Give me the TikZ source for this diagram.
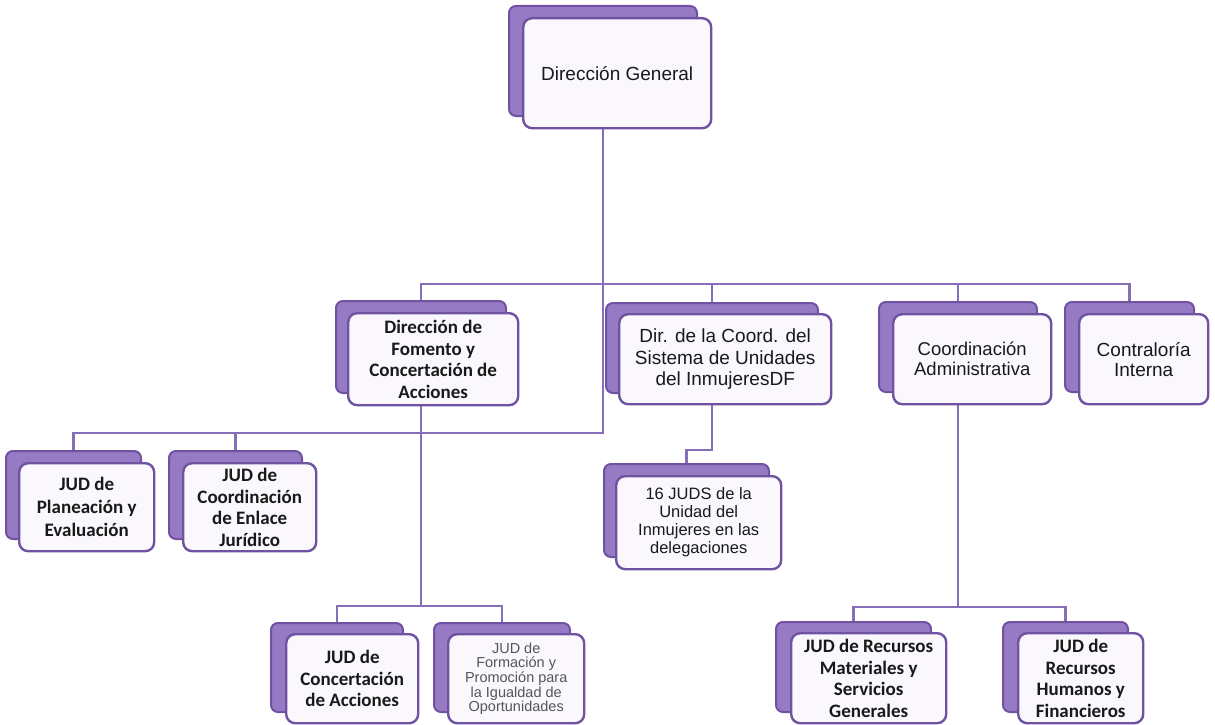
\documentclass[tikz,border=0pt]{standalone}
\usepackage{fontspec}
\setmainfont{Liberation Sans}
\newfontfamily\calfont{Carlito}
\usetikzlibrary{backgrounds}
\definecolor{purp}{RGB}{112,82,162}
\definecolor{purpline}{RGB}{135,110,185}
\definecolor{shfill}{RGB}{150,122,195}
\definecolor{frontfill}{RGB}{250,248,253}
\definecolor{txt}{RGB}{25,25,25}
\definecolor{txtgray}{RGB}{85,85,85}
\tikzset{
  front/.style={draw=purp, line width=2.4pt, rounded corners=9pt, fill=frontfill,
    inner sep=0pt, align=center, text=txt, anchor=north west},
  shadowbox/.style={draw=purp, line width=2pt, rounded corners=7pt, fill=shfill,
    inner sep=0pt, anchor=north west},
  conn/.style={draw=purpline, line width=2.2pt},
  arial/.style={font=\fontsize{19}{21.5}\selectfont},
  cal/.style={font=\calfont\bfseries\fontsize{19}{21.5}\selectfont},
}
\begin{document}
\begin{tikzpicture}[x=1pt,y=-1pt]
\useasboundingbox (0,0) rectangle (1215,725);
% bus levels
\coordinate (b1) at (0,284);
\coordinate (b2) at (0,433);
\coordinate (b3) at (0,606);
\coordinate (b4) at (0,450);
\coordinate (b5) at (0,607);
% shadows
\node[shadowbox, minimum width=188pt, minimum height=110pt] (dgS) at (508,5) {};
\node[shadowbox, minimum width=170pt, minimum height=92pt] (fomS) at (335,300) {};
\node[shadowbox, minimum width=212pt, minimum height=90pt] (dcS) at (605,302) {};
\node[shadowbox, minimum width=158pt, minimum height=90pt] (caS) at (878,301) {};
\node[shadowbox, minimum width=129pt, minimum height=90pt] (conS) at (1064,301) {};
\node[shadowbox, minimum width=135pt, minimum height=88pt] (plS) at (5,450) {};
\node[shadowbox, minimum width=133pt, minimum height=88pt] (enS) at (168,450) {};
\node[shadowbox, minimum width=165pt, minimum height=93pt] (judsS) at (603,463) {};
\node[shadowbox, minimum width=132pt, minimum height=89pt] (jcS) at (270,622) {};
\node[shadowbox, minimum width=136pt, minimum height=89pt] (jfS) at (433,622) {};
\node[shadowbox, minimum width=155pt, minimum height=90pt] (rmS) at (775,621) {};
\node[shadowbox, minimum width=125pt, minimum height=90pt] (rhS) at (1002,621) {};
% front boxes
\node[front, arial, minimum width=188pt, minimum height=110pt] (dg) at (522,17) {Dirección General};
\node[front, cal, minimum width=170pt, minimum height=92pt] (fom) at (347,312) {Dirección de\\Fomento y\\Concertación de\\Acciones};
\node[front, arial, minimum width=212pt, minimum height=90pt] (dc) at (618,313) {Dir. de la Coord. del\\Sistema de Unidades\\del InmujeresDF};
\node[front, font=\fontsize{18.5}{20}\selectfont, minimum width=158pt, minimum height=90pt] (ca) at (892,313) {Coordinación\\Administrativa};
\node[front, font=\fontsize{19}{20}\selectfont, minimum width=129pt, minimum height=90pt] (con) at (1078,313) {Contraloría\\Interna};
\node[front, font=\calfont\bfseries\fontsize{19}{23}\selectfont, minimum width=135pt, minimum height=88pt] (pl) at (18,462) {JUD de\\Planeación y\\Evaluación};
\node[front, cal, minimum width=133pt, minimum height=88pt] (en) at (182,462) {JUD de\\Coordinación\\de Enlace\\Jurídico};
\node[front, font=\fontsize{16.5}{18}\selectfont, minimum width=165pt, minimum height=93pt] (juds) at (615,475) {16 JUDS de la\\Unidad del\\Inmujeres en las\\delegaciones};
\node[front, cal, minimum width=132pt, minimum height=89pt] (jc) at (285,633) {JUD de\\Concertación\\de Acciones};
\node[front, text=txtgray, font=\fontsize{14.5}{14.6}\selectfont, minimum width=136pt, minimum height=89pt] (jf) at (447,633) {JUD de\\Formación y\\Promoción para\\la Igualdad de\\Oportunidades};
\node[front, cal, minimum width=155pt, minimum height=90pt] (rm) at (790,632) {JUD de Recursos\\Materiales y\\Servicios\\Generales};
\node[front, cal, minimum width=125pt, minimum height=90pt] (rh) at (1017,632) {JUD de\\Recursos\\Humanos y\\Financieros};
% connectors behind the boxes
\begin{pgfonlayer}{background}
\draw[conn] (dg.south -| dgS.center) -- (dgS.center |- b2) -| (plS.north);
\draw[conn] (enS.center |- b2) -- (enS.north);
\draw[conn] (fomS.north) -- (fomS.center |- b1) -- (conS.center |- b1) -- (conS.north);
\draw[conn] (dcS.center |- b1) -- (dcS.north);
\draw[conn] (caS.center |- b1) -- (caS.north);
\draw[conn] (fom.south -| fomS.center) -- (fomS.center |- b3);
\draw[conn] (jcS.north) -- (jcS.center |- b3) -| (jfS.north);
\draw[conn] (dc.south -| dcS.center) -- (dcS.center |- b4) -| (judsS.north);
\draw[conn] (ca.south -| caS.center) -- (caS.center |- b5);
\draw[conn] (rmS.north) -- (rmS.center |- b5) -| (rhS.north);
\end{pgfonlayer}
\end{tikzpicture}
\end{document}
